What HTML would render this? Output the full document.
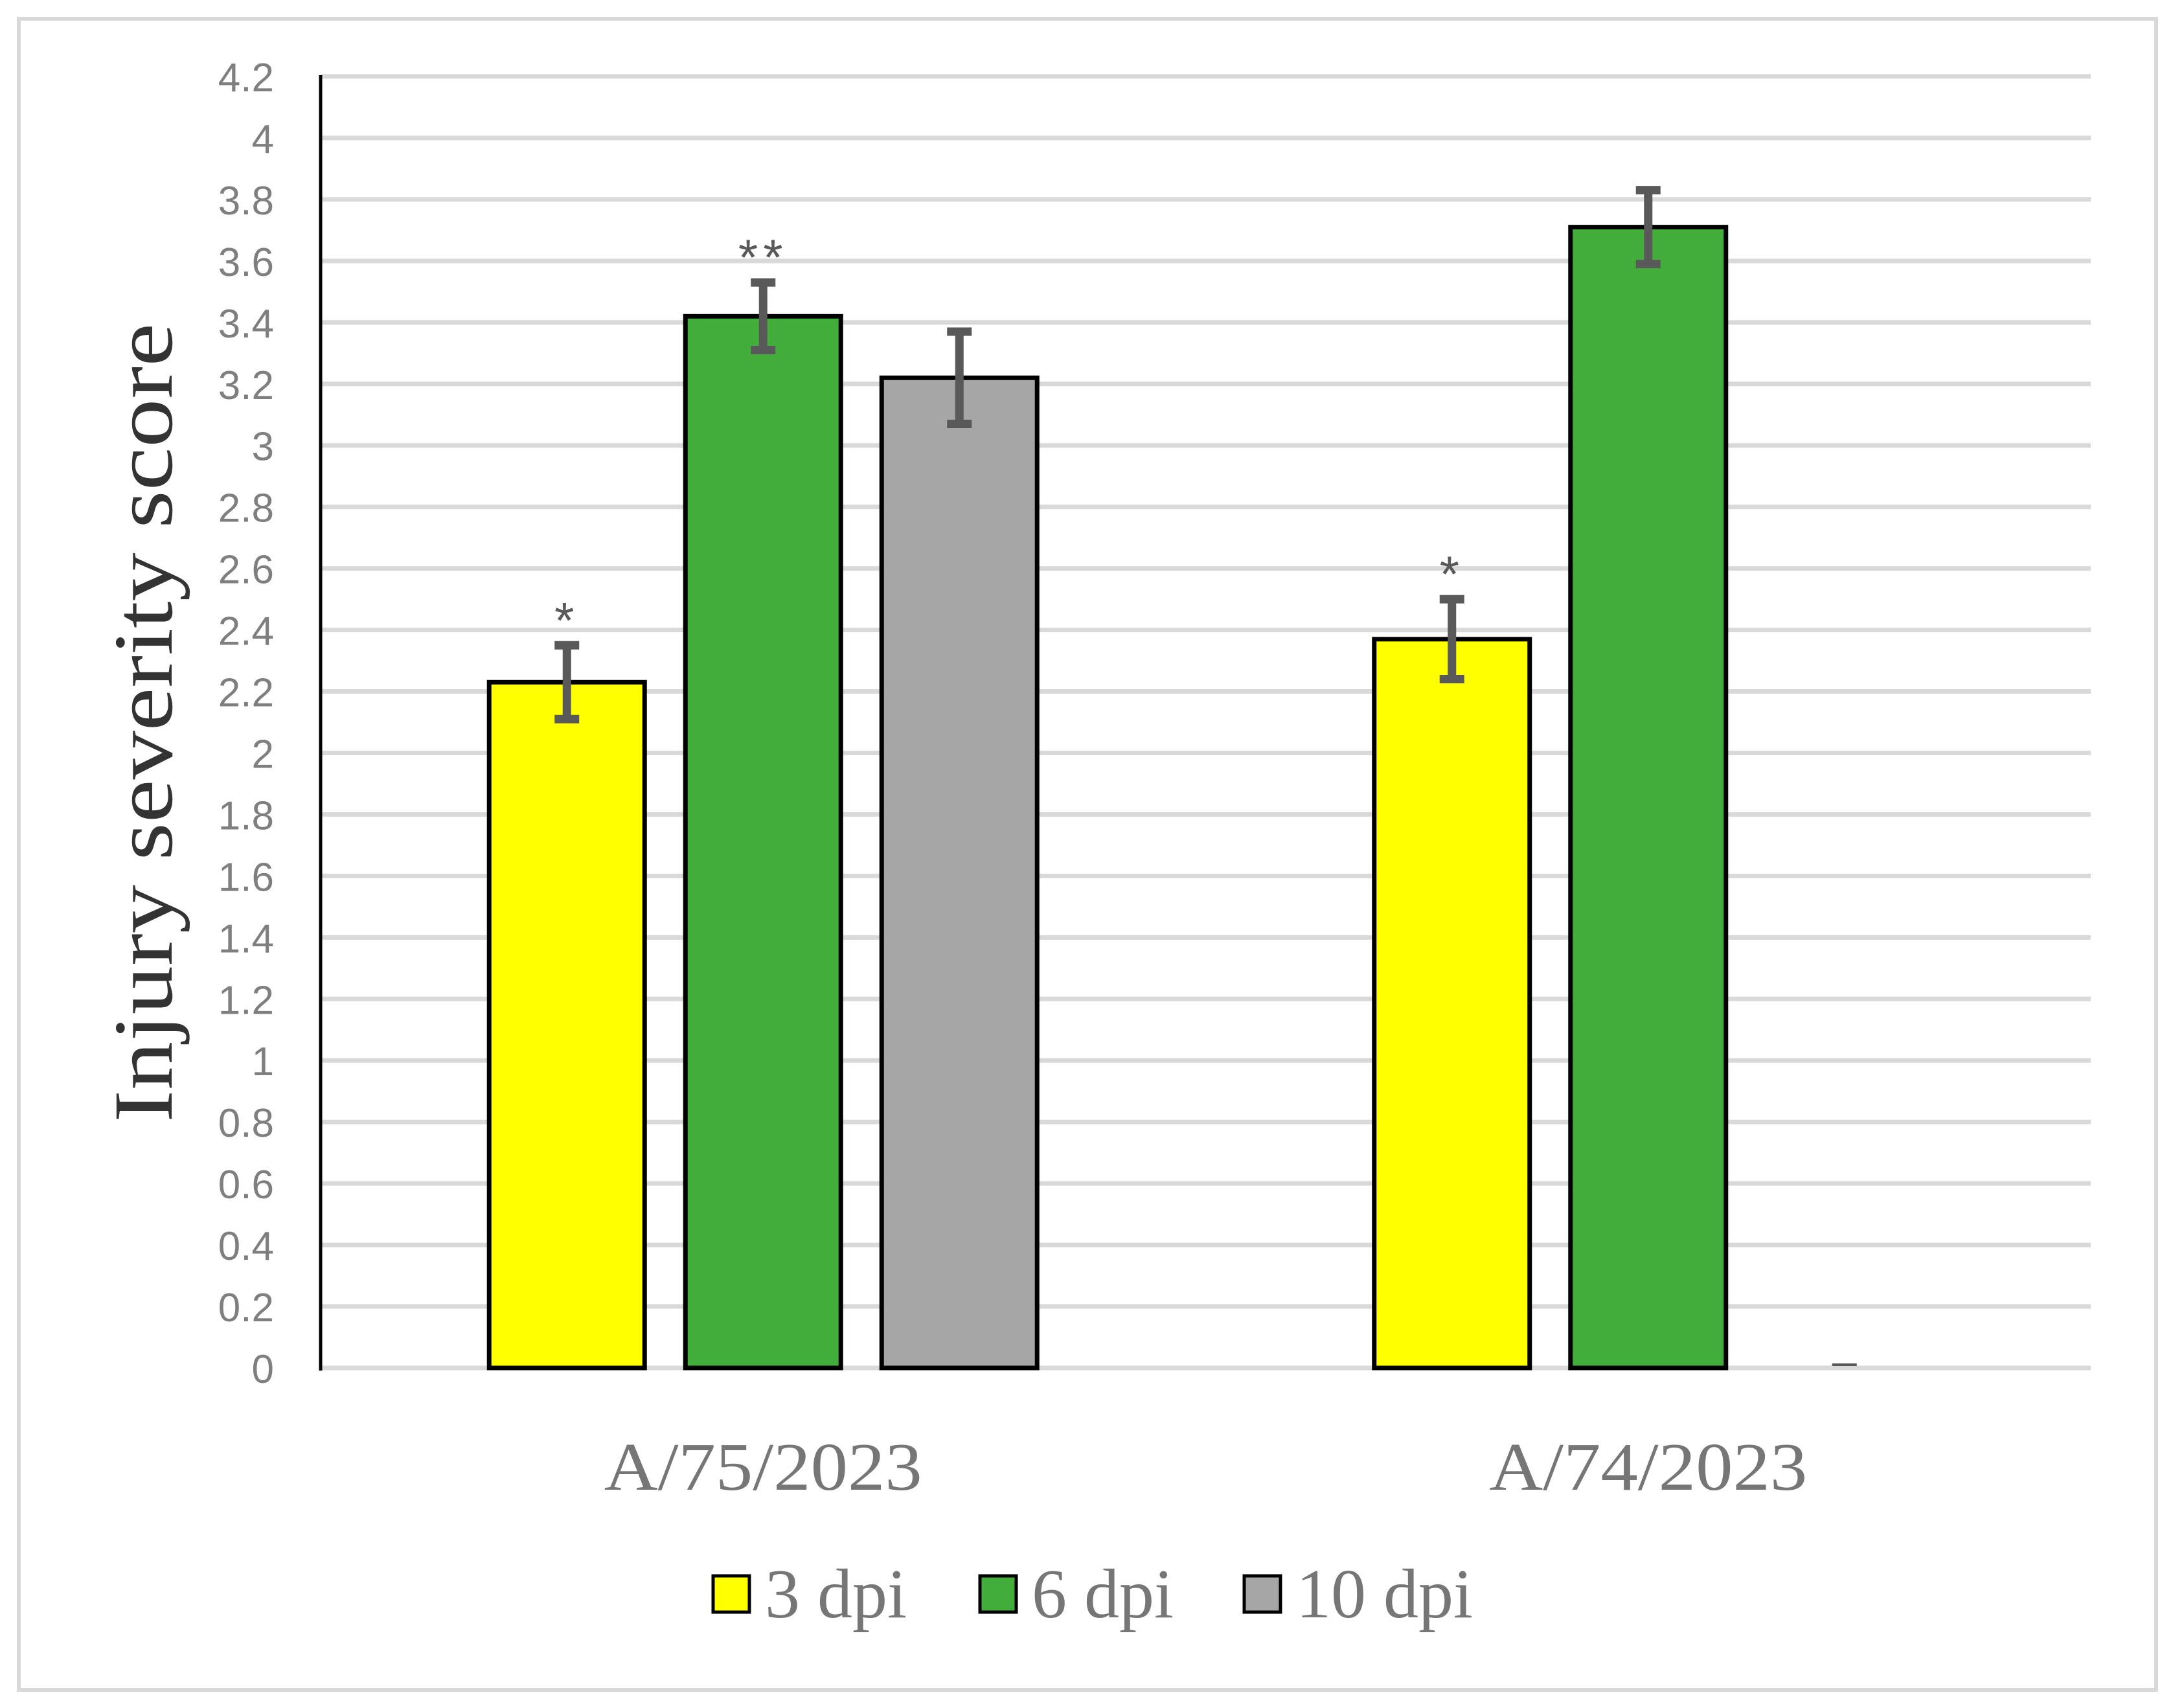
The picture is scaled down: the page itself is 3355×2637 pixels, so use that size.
<!DOCTYPE html>
<html><head><meta charset="utf-8"><style>
html,body{margin:0;padding:0;background:#fff;}
svg{display:block;}
</style></head><body>
<svg id="chart" width="3355" height="2637" viewBox="0 0 3355 2637" xmlns="http://www.w3.org/2000/svg">
<rect x="29" y="29" width="3300" height="2580" fill="#fff" stroke="#d9d9d9" stroke-width="6"/>
<g id="grid"></g><g id="bars"></g>
<line x1="495" y1="116" x2="495" y2="2116" stroke="#000" stroke-width="5"/>
<text transform="translate(265,1116) rotate(-90)" text-anchor="middle" font-family="Liberation Serif, serif" font-size="130" fill="#333" textLength="1234" lengthAdjust="spacingAndGlyphs">Injury severity score</text>
<g id="legend"></g>
</svg>
<script>
const categories=["A/75/2023","A/74/2023"];
const seriesNames=["3 dpi","6 dpi","10 dpi"];
const seriesColors=["#ffff00","#43ad3b","#a6a6a6"];
const values3=[2.23,2.37];
const values6=[3.42,3.71];
const values10=[3.22,0];
const err3=[0.12,0.13];
const err6=[0.11,0.12];
const err10=[0.15,0];
const stars3=["*","*"];
const stars6=["**",""];
const stars10=["",""];
const yTicks=[0,0.2,0.4,0.6,0.8,1,1.2,1.4,1.6,1.8,2,2.2,2.4,2.6,2.8,3,3.2,3.4,3.6,3.8,4,4.2];
const tickLabels=["0","0.2","0.4","0.6","0.8","1","1.2","1.4","1.6","1.8","2","2.2","2.4","2.6","2.8","3","3.2","3.4","3.6","3.8","4","4.2"];

const NS="http://www.w3.org/2000/svg";
const X0=495,X1=3228,Y0=2112,YT=118,YMAX=4.2;
function y(v){return Y0-(v/YMAX)*(Y0-YT);}
const catW=(X1-X0)/categories.length;
function catCenter(i){return X0+catW*(i+0.5);}
const barW=240,step=303;
function mk(tag,attrs,parent){const e=document.createElementNS(NS,tag);for(const k in attrs)e.setAttribute(k,attrs[k]);parent.appendChild(e);return e;}
const grid=document.getElementById('grid');
yTicks.forEach((t,i)=>{
  const l=mk('line',{x1:X0,x2:X1,y1:y(t),y2:y(t),stroke:'#d9d9d9','stroke-width':7},grid);
  
  
  const tx=mk('text',{x:423,y:y(t)+23,'text-anchor':'end','font-family':'Liberation Sans, sans-serif','font-size':62,fill:'#7f7f7f'},grid);
  tx.textContent=tickLabels[i];
  
  
});
const bars=document.getElementById('bars');
const vals=[values3,values6,values10],errs=[err3,err6,err10],stars=[stars3,stars6,stars10];
categories.forEach((c,ci)=>{
  const cx=catCenter(ci);
  for(let s=0;s<3;s++){
    const bx=cx+(s-1)*step;
    const v=vals[s][ci],e=errs[s][ci];
    if(v>0){
      const r=mk('rect',{x:bx-barW/2,y:y(v),width:barW,height:Y0-y(v),fill:seriesColors[s],stroke:'#000','stroke-width':7},bars);
      
      
    }
    const g=mk('g',{stroke:'#595959'},bars);
    
    
    if(e>0){
      mk('line',{x1:bx,x2:bx,y1:y(v+e),y2:y(v-e),'stroke-width':13},g);
      mk('line',{x1:bx-19,x2:bx+19,y1:y(v+e),y2:y(v+e),'stroke-width':13},g);
      mk('line',{x1:bx-19,x2:bx+19,y1:y(v-e),y2:y(v-e),'stroke-width':13},g);
    } else {
      mk('line',{x1:bx-19,x2:bx+19,y1:y(v)-5,y2:y(v)-5,'stroke-width':4},g);
    }
    if(stars[s][ci]){
      const st=mk('text',{x:bx,y:y(v+e)-12,'text-anchor':'middle','font-family':'Liberation Sans, sans-serif','font-size':78,fill:'#595959','letter-spacing':'8'},bars);
      st.textContent=stars[s][ci];
      
      
    }
  }
  const cl=mk('text',{x:cx,y:2300,'text-anchor':'middle','font-family':'Liberation Serif, serif','font-size':105,fill:'#767676',textLength:491,lengthAdjust:'spacingAndGlyphs'},bars);
  cl.textContent=c;
  
  
});
const leg=document.getElementById('legend');
const legX=[1101,1513,1921];
seriesNames.forEach((n,i)=>{
  const g=mk('g',{},leg);
  
  
  mk('rect',{x:legX[i],y:2433,width:56,height:56,fill:seriesColors[i],stroke:'#000','stroke-width':5},g);
  const t=mk('text',{x:legX[i]+80,y:2497,'font-family':'Liberation Serif, serif','font-size':108,fill:'#767676'},g);
  t.textContent=n;
});
</script>
</body></html>
